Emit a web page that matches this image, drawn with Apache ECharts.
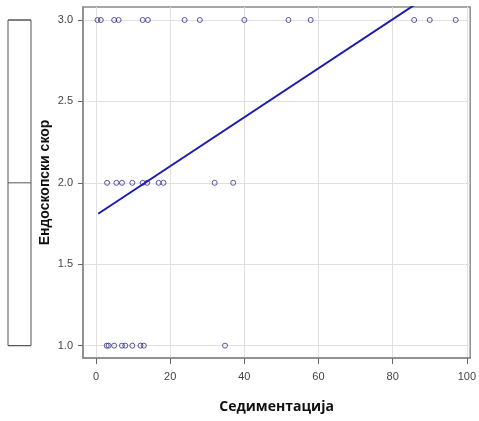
<!DOCTYPE html>
<html><head><meta charset="utf-8">
<script src="https://cdn.jsdelivr.net/npm/echarts@6/dist/echarts.min.js"></script>
<style>html,body{margin:0;padding:0;background:#fff}#c{width:479px;height:421px}</style>
</head><body><div id="c"></div>
<script>
// Sedimentation (x) and endoscopic score (y)
const sedScore3 = [0.4, 1.3, 4.9, 6.1, 12.6, 14.0, 23.9, 28.0, 40.0, 51.9, 57.9, 85.8, 90.0, 97.0];
const sedScore2 = [3.0, 5.5, 7.0, 9.8, 12.6, 13.8, 16.9, 18.2, 32.0, 37.0];
const sedScore1 = [2.9, 3.4, 4.9, 7.0, 7.9, 9.8, 12.0, 12.9, 34.8];
const fitX = [0.6, 97.0];
const fitY = [1.81, 3.26];
const xTicks = [0, 20, 40, 60, 80, 100];
const yTicks = [1.0, 1.5, 2.0, 2.5, 3.0];
const boxStats = [1, 1, 2, 3, 3]; // min, Q1, median, Q3, max of endoscopic score

const pts = [];
sedScore3.forEach(v => pts.push([v, 3]));
sedScore2.forEach(v => pts.push([v, 2]));
sedScore1.forEach(v => pts.push([v, 1]));
const fitLine = fitX.map((x, i) => [x, fitY[i]]);

const chart = echarts.init(document.getElementById('c'), null, {renderer: 'canvas'});
const yMin = 0.924, yMax = 3.08;
chart.setOption({
  animation: false,
  grid: [
    {left: 83, top: 7, right: 6, bottom: 63, show: true, borderColor: '#8a8a8a', borderWidth: 1.5, containLabel: false},
    {left: 8, top: 7, width: 23, bottom: 63, show: false}
  ],
  xAxis: [{
    type: 'value', gridIndex: 0, min: -3.5, max: 100.9,
    axisLine: {show: true, onZero: false, lineStyle: {color: '#8a8a8a', width: 1.5}},
    axisTick: {show: true, customValues: xTicks, length: 6, lineStyle: {color: '#666'}},
    axisLabel: {customValues: xTicks, color: '#444', fontSize: 11, fontFamily: 'Liberation Sans, Arial', margin: 13},
    splitLine: {show: true, lineStyle: {color: '#e0e0e0', width: 1}},
    name: 'Седиментација', nameLocation: 'middle', nameGap: 42, nameMoveOverlap: false,
    nameTextStyle: {fontSize: 14, fontWeight: 'bold', color: '#111', fontFamily: 'Open Sans, DejaVu Sans'}
  }, {
    type: 'category', gridIndex: 1, data: ['a'], show: false
  }],
  yAxis: [{
    type: 'value', gridIndex: 0, min: yMin, max: yMax,
    axisLine: {show: true, onZero: false, lineStyle: {color: '#8a8a8a', width: 1.5}},
    axisTick: {show: true, customValues: yTicks, length: 5, lineStyle: {color: '#666'}},
    axisLabel: {customValues: yTicks, formatter: v => v.toFixed(1), color: '#444', fontSize: 11, fontFamily: 'Liberation Sans, Arial', margin: 10},
    splitLine: {show: true, lineStyle: {color: '#e0e0e0', width: 1}},
    name: 'Ендоскопски скор', nameLocation: 'middle', nameGap: 31, nameRotate: 90, nameMoveOverlap: false,
    nameTextStyle: {fontSize: 14, fontWeight: 'bold', color: '#111', fontFamily: 'Liberation Sans, Arial'}
  }, {
    type: 'value', gridIndex: 1, min: yMin, max: yMax, show: false
  }],
  series: [{
    type: 'scatter', xAxisIndex: 0, yAxisIndex: 0, data: pts,
    symbol: 'circle', symbolSize: 5,
    itemStyle: {color: 'rgba(255,255,255,0)', borderColor: '#2e2e8a', borderWidth: 1}
  }, {
    type: 'line', xAxisIndex: 0, yAxisIndex: 0, data: fitLine, clip: true,
    showSymbol: false, lineStyle: {color: '#1c1cb0', width: 2}
  }, {
    type: 'boxplot', xAxisIndex: 1, yAxisIndex: 1, data: [boxStats],
    boxWidth: ['100%', '100%'],
    itemStyle: {color: '#fff', borderColor: '#555', borderWidth: 1}
  }]
});
</script></body></html>
